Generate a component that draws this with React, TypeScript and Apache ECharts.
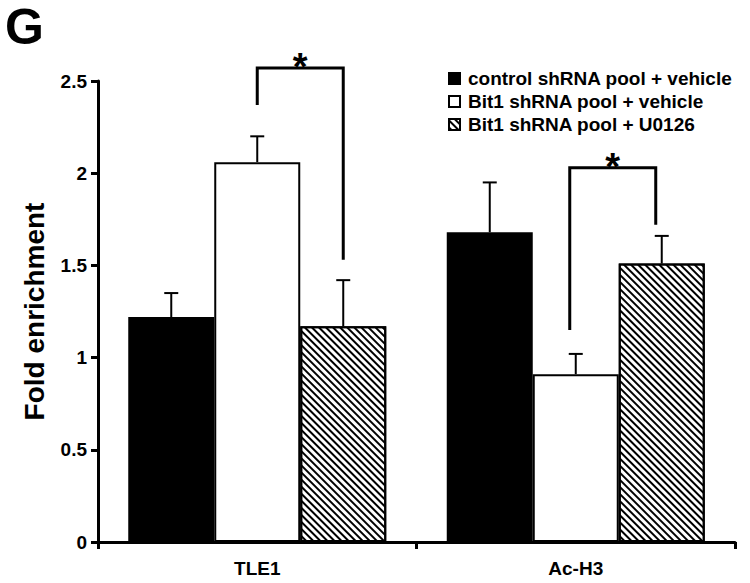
import React, { useEffect, useRef } from 'react';
import * as echarts from 'echarts';

const categories = ['TLE1', 'Ac-H3'];
const seriesNames = [
  'control shRNA pool + vehicle',
  'Bit1 shRNA pool + vehicle',
  'Bit1 shRNA pool + U0126',
];
const controlVehicle = [1.22, 1.68];
const bit1Vehicle = [2.06, 0.91];
const bit1U0126 = [1.17, 1.51];
const controlVehicleErr = [0.13, 0.27];
const bit1VehicleErr = [0.14, 0.11];
const bit1U0126Err = [0.25, 0.15];
// [category index, left series index, right series index, top, left bottom, right bottom]
const brackets = [
  [0, 1, 2, 2.57, 2.37, 1.53],
  [1, 1, 2, 2.03, 1.15, 1.72],
];
const yTicks = { min: 0, max: 2.5, interval: 0.5 };

const FONT = '"Liberation Sans", Arial, sans-serif';
const GAP = 0.19;

export default function App() {
  const ref = useRef<HTMLDivElement>(null);
  useEffect(() => {
    if (!ref.current) return;
    const chart = echarts.init(ref.current, undefined, { renderer: 'svg' });
    const values = [controlVehicle, bit1Vehicle, bit1U0126];
    const errs = [controlVehicleErr, bit1VehicleErr, bit1U0126Err];
    const hatch = {
      symbol: 'rect',
      symbolSize: 1,
      dashArrayX: [1, 0],
      dashArrayY: [1.6, 2.6],
      rotation: Math.PI / 4,
      color: '#000',
    };
    const barStyles = [
      { color: '#000', borderColor: '#000', borderWidth: 2 },
      { color: '#fff', borderColor: '#000', borderWidth: 2 },
      { color: '#fff', borderColor: '#000', borderWidth: 2, decal: hatch },
    ];
    const barSeries = seriesNames.map((name, i) => ({
      name,
      type: 'bar',
      data: values[i],
      barGap: '0%',
      barCategoryGap: GAP * 100 + '%',
      itemStyle: barStyles[i],
      emphasis: { disabled: true },
    }));
    const errSeries = seriesNames.map((name, k) => ({
      type: 'custom',
      name: 'err' + k,
      z: 5,
      encode: { x: 0, y: 1 },
      data: categories.map((_, ci) => [ci, values[k][ci], errs[k][ci]]),
      renderItem: (params: any, api: any) => {
        const ci = api.value(0);
        const v = api.value(1);
        const e = api.value(2);
        const base = api.coord([ci, v]);
        const top = api.coord([ci, v + e]);
        const band = api.size([1, 0])[0];
        const bw = (band * (1 - GAP)) / 3;
        const x = base[0] + (k - 1) * bw;
        const st = { stroke: '#000', lineWidth: 2 };
        return {
          type: 'group',
          children: [
            { type: 'line', shape: { x1: x, y1: base[1], x2: x, y2: top[1] }, style: st },
            { type: 'line', shape: { x1: x - 7, y1: top[1], x2: x + 7, y2: top[1] }, style: st },
          ],
        };
      },
    }));
    const bracketSeries = {
      type: 'custom',
      name: 'brackets',
      z: 6,
      clip: false,
      encode: { x: 0, y: 3 },
      data: brackets,
      renderItem: (params: any, api: any) => {
        const ci = api.value(0);
        const li = api.value(1);
        const ri = api.value(2);
        const band = api.size([1, 0])[0];
        const bw = (band * (1 - GAP)) / 3;
        const c = api.coord([ci, api.value(3)]);
        const lb = api.coord([ci, api.value(4)]);
        const rb = api.coord([ci, api.value(5)]);
        const shift = ci === 1 ? -6 : 0;
        const xl = c[0] + (li - 1) * bw + shift;
        const xr = c[0] + (ri - 1) * bw + shift;
        return {
          type: 'group',
          children: [
            {
              type: 'polyline',
              shape: { points: [[xl, lb[1]], [xl, c[1]], [xr, c[1]], [xr, rb[1]]] },
              style: { stroke: '#000', lineWidth: 3, fill: 'none' },
            },
            {
              type: 'text',
              x: (xl + xr) / 2,
              y: c[1] - 1,
              style: {
                text: '*',
                font: 'bold 38px ' + FONT,
                fill: '#000',
                textAlign: 'center',
                textVerticalAlign: 'middle',
              },
            },
          ],
        };
      },
    };
    chart.setOption({
      animation: false,
      backgroundColor: '#fff',
      grid: { left: 98, right: 15, top: 81, bottom: 41, containLabel: false },
      legend: {
        orient: 'vertical',
        left: 443,
        top: 64,
        itemWidth: 11,
        itemHeight: 11,
        itemGap: 4,
        icon: 'rect',
        data: seriesNames,
        selectedMode: false,
        textStyle: { fontFamily: FONT, fontWeight: 'bold', fontSize: 19, color: '#000', padding: [0, 0, 0, 3] },
      },
      xAxis: {
        type: 'category',
        data: categories,
        axisLine: { lineStyle: { color: '#000', width: 3 } },
        axisTick: { show: true, length: 7, lineStyle: { color: '#000', width: 3 } },
        axisLabel: { fontFamily: FONT, fontWeight: 'bold', fontSize: 19, color: '#000', margin: 17 },
      },
      yAxis: {
        type: 'value',
        min: yTicks.min,
        max: yTicks.max,
        interval: yTicks.interval,
        name: 'Fold enrichment',
        nameLocation: 'middle',
        nameGap: 50,
        nameTextStyle: { fontFamily: FONT, fontWeight: 'bold', fontSize: 28, color: '#000' },
        splitLine: { show: false },
        axisLine: { show: true, lineStyle: { color: '#000', width: 3 } },
        axisTick: { show: true, length: 7, lineStyle: { color: '#000', width: 3 } },
        axisLabel: { fontFamily: FONT, fontWeight: 'bold', fontSize: 19, color: '#000', margin: 11 },
      },
      graphic: [
        {
          type: 'text',
          left: 5,
          top: 2,
          style: { text: 'G', font: 'bold 50px ' + FONT, fill: '#000' },
        },
      ],
      series: [...barSeries, ...errSeries, bracketSeries],
    });
    return () => chart.dispose();
  }, []);
  return (
    <div
      ref={ref}
      style={{ position: 'fixed', left: 0, top: 0, width: 750, height: 583, background: '#fff' }}
    />
  );
}
